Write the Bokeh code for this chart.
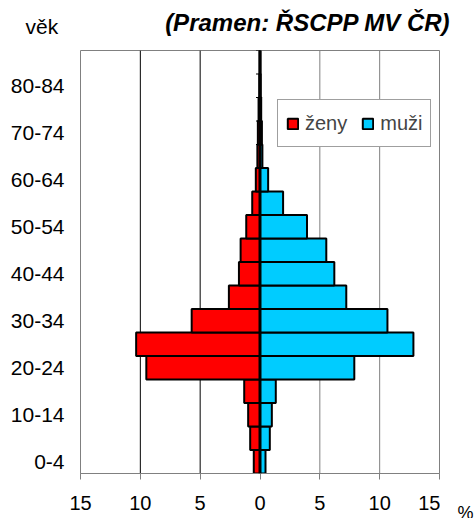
import numpy as np
from bokeh.plotting import figure
from bokeh.layouts import column, row
from bokeh.models import Range1d, FixedTicker, Span, Plot, Text, ColumnDataSource
from bokeh.core.properties import value
from bokeh.embed import file_html
from bokeh.resources import INLINE

age_groups = ["0-4", "5-9", "10-14", "15-19", "20-24", "25-29", "30-34", "35-39",
              "40-44", "45-49", "50-54", "55-59", "60-64", "65-69", "70-74",
              "75-79", "80-84", "85+"]
zeny = [0.52, 0.82, 0.99, 1.32, 9.5, 10.35, 5.71, 2.6, 1.76, 1.62, 1.15, 0.65,
        0.35, 0.22, 0.18, 0.12, 0.06, 0.03]
muzi = [0.46, 0.82, 0.99, 1.32, 7.88, 12.82, 10.65, 7.21, 6.21, 5.54, 3.93, 1.93,
        0.68, 0.2, 0.16, 0.1, 0.06, 0.03]
x_ticks = [-15, -10, -5, 0, 5, 10, 15]
y_label_every = 2
source_text = "(Pramen: ŘSCPP MV ČR)"
y_title = "věk"
x_unit = "%"

FONT = "Liberation Sans"
n = len(age_groups)
ypos = np.arange(n)

TOP_H = 49
MAIN_W = 440
MAIN_H = 518 - TOP_H
SIDE_W = 475 - MAIN_W


def blank_plot(w, h):
    f = Plot(width=w, height=h, output_backend="svg", toolbar_location=None,
             x_range=Range1d(0, w), y_range=Range1d(0, h),
             min_border=0, min_border_left=0, min_border_right=0,
             min_border_top=0, min_border_bottom=0, frame_align=False,
             outline_line_color=None, background_fill_color="white",
             border_fill_color="white")
    return f


def add_text(f, x, y, txt, size, align, style="normal"):
    src = ColumnDataSource(dict(x=[x], y=[y], t=[txt]))
    f.add_glyph(src, Text(x="x", y="y", text="t", text_align=align,
                          text_baseline="alphabetic", text_font=value(FONT),
                          text_font_size=value(size), text_font_style=style,
                          text_color="black"))


# header: "věk" and the source note
top = blank_plot(475, TOP_H)
add_text(top, 450, TOP_H - 22, source_text, "24px", "right", "bold italic")
add_text(top, 25, TOP_H - 26, y_title, "21px", "left")

# main pyramid
p = figure(width=MAIN_W, height=MAIN_H, output_backend="svg", toolbar_location=None,
           x_range=Range1d(-15, 15), y_range=Range1d(-0.5, n - 0.5),
           min_border_left=80, min_border_right=1, min_border_top=1,
           min_border_bottom=45)
p.background_fill_color = "white"
p.border_fill_color = "white"
p.outline_line_color = "#808080"
p.outline_line_width = 1
p.xgrid.visible = False
p.ygrid.visible = False

for t in x_ticks:
    if t in (-15, 0, 15):
        continue
    p.add_layout(Span(location=t, dimension="height",
                      line_color="black" if t < 0 else "#808080",
                      line_width=1, level="underlay"))

p.hbar(y=ypos, left=-np.array(zeny), right=0, height=1.0,
       fill_color="#FF0000", line_color="black", line_width=2, legend_label="ženy")
p.hbar(y=ypos, left=0, right=np.array(muzi), height=1.0,
       fill_color="#00CCFF", line_color="black", line_width=2, legend_label="muži")

p.add_layout(Span(location=0, dimension="height", line_color="black", line_width=3))
bounds = np.arange(n + 1) - 0.5
p.ray(x=0, y=bounds, length=4, length_units="screen", angle=np.pi,
      line_color="black", line_width=1)

xa = p.xaxis[0]
xa.ticker = FixedTicker(ticks=x_ticks)
xa.major_label_overrides = {t: str(abs(t)) for t in x_ticks}
xa.axis_line_color = "#808080"
xa.major_tick_line_color = "#808080"
xa.major_tick_out = 6
xa.major_tick_in = 0
xa.minor_tick_line_color = None
xa.major_label_text_font = FONT
xa.major_label_text_font_size = "20px"
xa.major_label_text_color = "black"
xa.major_label_standoff = 16

ya = p.yaxis[0]
ya.ticker = FixedTicker(ticks=list(ypos[::y_label_every]))
ya.major_label_overrides = {int(i): age_groups[i] for i in ypos[::y_label_every]}
ya.axis_line_color = None
ya.major_tick_line_color = None
ya.minor_tick_line_color = None
ya.major_tick_out = 0
ya.major_tick_in = 0
ya.major_label_text_font = FONT
ya.major_label_text_font_size = "21px"
ya.major_label_text_color = "black"
ya.major_label_standoff = 16

lg = p.legend[0]
lg.orientation = "horizontal"
lg.location = (197, 326)
lg.label_text_font = FONT
lg.label_text_font_size = "20px"
lg.glyph_width = 13
lg.glyph_height = 13
lg.label_standoff = 6
lg.spacing = 14
lg.padding = 8
lg.label_height = 30
lg.margin = 0
lg.border_line_color = "#404040"
lg.border_line_width = 1
lg.background_fill_color = "white"
lg.background_fill_alpha = 1.0

# unit sign to the right of the x axis
side = blank_plot(SIDE_W, MAIN_H)
add_text(side, 17, 6, x_unit, "18px", "left")

layout = column(top, row(p, side, spacing=0), spacing=0)
open("out.html", "w").write(file_html(layout, INLINE))
